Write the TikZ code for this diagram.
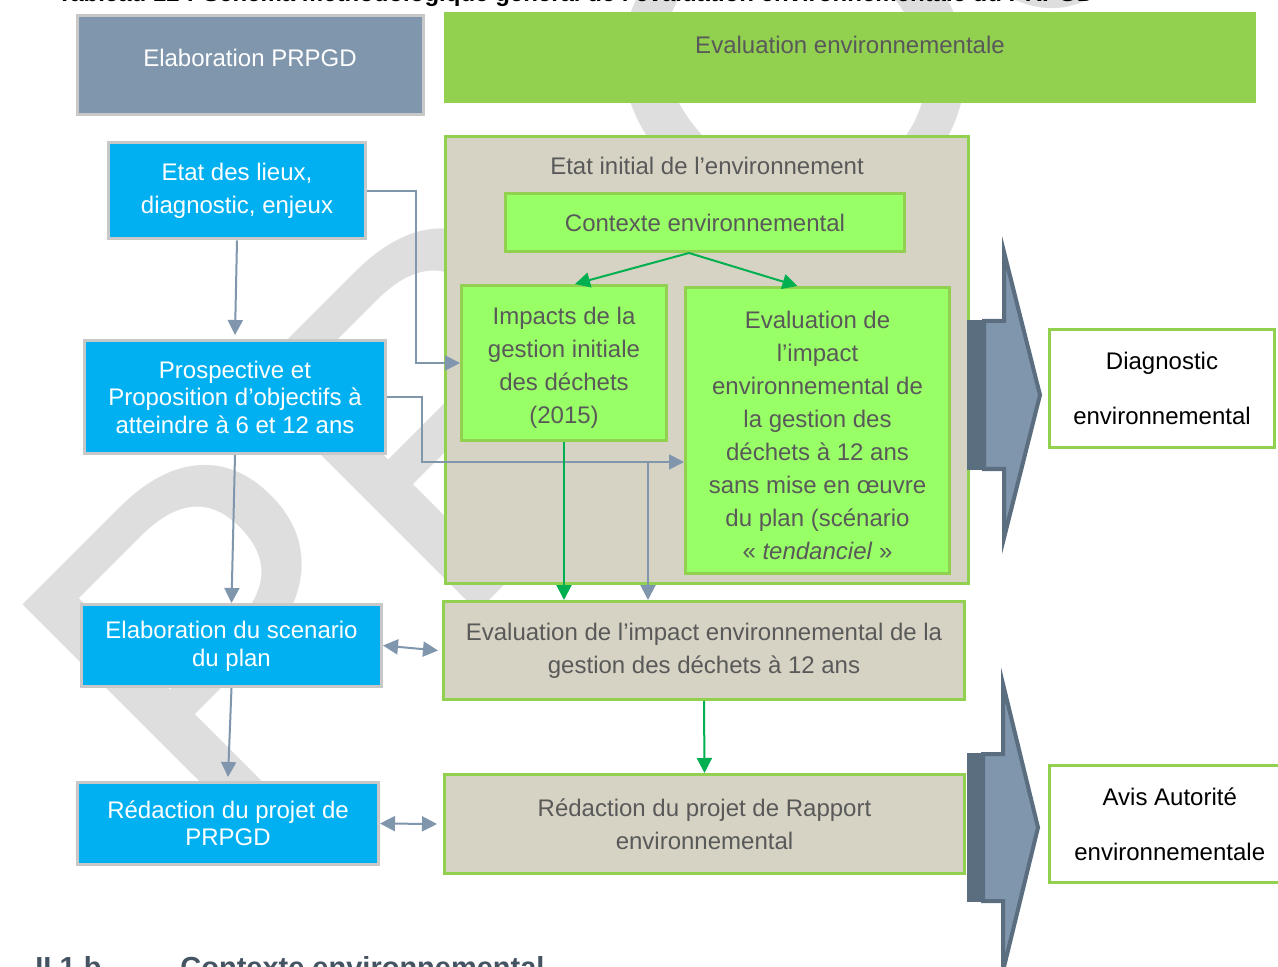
\documentclass[tikz,border=0pt]{standalone}
\usepackage{fontspec}
\setmainfont{Liberation Sans}
\usetikzlibrary{arrows.meta,calc}
\definecolor{slate}{HTML}{7F96AD}
\definecolor{slatedark}{HTML}{5B6E80}
\definecolor{blueb}{HTML}{00B0F0}
\definecolor{bgray}{HTML}{C8C8C8}
\definecolor{topgreen}{HTML}{92D050}
\definecolor{gborder}{HTML}{92D050}
\definecolor{beige}{HTML}{D6D3C4}
\definecolor{lgreen}{HTML}{99FF66}
\definecolor{garrow}{HTML}{00B050}
\definecolor{dtext}{HTML}{595959}
\definecolor{wmgray}{HTML}{DEDEDE}
\definecolor{secgray}{HTML}{455463}
\tikzset{
  base/.style={inner sep=0pt, align=center, line width=1.5pt},
  fA/.style={font=\fontsize{12pt}{16.5pt}\selectfont},
  fB/.style={font=\fontsize{12pt}{13.75pt}\selectfont},
  blubox/.style={base, fB, draw=bgray, fill=blueb, text=white},
  slbox/.style={base, draw=bgray, fill=slate, text=white},
  beigebox/.style={base, fA, draw=gborder, fill=beige, text=dtext},
  lgbox/.style={base, fA, draw=gborder, fill=lgreen, text=dtext},
  whbox/.style={base, font=\fontsize{12pt}{27.5pt}\selectfont, draw=gborder, fill=white, text=black},
  lbl/.style={inner sep=0pt, fA, align=center},
  sz/.style 2 args={minimum width=#1, minimum height=#2},
  sla/.style={draw=slate, line width=1pt, -{Triangle[length=7.5pt,width=7.5pt]}},
  slb/.style={draw=slate, line width=1pt, {Triangle[length=7.5pt,width=7.5pt]}-{Triangle[length=7.5pt,width=7.5pt]}},
  gra/.style={draw=garrow, line width=1pt, -{Triangle[length=7.5pt,width=7.5pt]}},
  bigarrow/.style={fill=slate, draw=slatedark, line width=2pt, line join=miter},
  shaftdark/.style={fill=slatedark},
}
\begin{document}
\begin{tikzpicture}[x=0.5pt,y=-0.5pt]
\useasboundingbox (0,0) rectangle (1278,967);
\clip (0,0) rectangle (1278,967);
\fill[white] (0,0) rectangle (1278,967);

% watermark
\node[anchor=base west, rotate=45, inner sep=0pt, text=wmgray,
      font=\fontsize{237.5pt}{240pt}\selectfont] (wmk) at (226,864) {PR\kern62pt OJET};

% cut-off headings
\node[anchor=base west, inner sep=0pt, font=\bfseries\fontsize{12pt}{14pt}\selectfont] (ttl) at (57,2)
  {Tableau 12 : Schéma méthodologique général de l’évaluation environnementale du PRPGD};
\node[anchor=base west, inner sep=0pt, text=secgray, font=\bfseries\fontsize{14.5pt}{16pt}\selectfont] (secn) at (35,977) {II.1.b};
\node[anchor=base west, inner sep=0pt, text=secgray, font=\bfseries\fontsize{14.5pt}{16pt}\selectfont] (sect) at (180,977) {Contexte environnemental};

% header boxes
\node[slbox, sz={173pt}{49.5pt}] (epr) at (250.5,65) {};
\node[lbl, text=white] (eprt) at (250,58) {Elaboration PRPGD};
\node[base, fill=topgreen, draw=topgreen, line width=0.5pt, sz={405.5pt}{45pt}] (eev) at (850,57.5) {};
\node[lbl, text=dtext] (eevt) at (850,45) {Evaluation environnementale};

% left column
\node[blubox, fA, sz={128.5pt}{48pt}] (eld) at (237,191) {Etat des lieux,\\diagnostic, enjeux};
\node[blubox, sz={150.5pt}{56.5pt}] (pro) at (235,397) {Prospective et\\Proposition d’objectifs à\\atteindre à 6 et 12 ans};
\node[blubox, sz={150pt}{41pt}] (esc) at (231.5,645.5) {};
\node[lbl, fB, text=white] (esct) at (231.5,646.5) {Elaboration du scenario\\du plan};
\node[blubox, sz={150.5pt}{41pt}] (red) at (228,823.5) {Rédaction du projet de\\PRPGD};

% evaluation column
\node[beigebox, sz={261.5pt}{223.5pt}] (eti) at (707,360) {};
\node[lbl, text=dtext] (etit) at (707,166) {Etat initial de l’environnement};
\node[lgbox, sz={199.5pt}{29pt}] (ctx) at (705,222.5) {Contexte environnemental};
\node[lgbox, sz={102.5pt}{77.5pt}] (imp) at (564,363) {};
\node[lbl, text=dtext] (impt) at (564,368) {Impacts de la\\gestion initiale\\des déchets\\(2015)};
\node[lgbox, sz={132pt}{143pt}] (eim) at (817.5,430.5) {};
\node[lbl, text=dtext] (eimt) at (817.5,435.5) {Evaluation de\\l’impact\\environnemental de\\la gestion des\\déchets à 12 ans\\sans mise en œuvre\\du plan (scénario\\« \textit{tendanciel} »};
\node[beigebox, sz={260.5pt}{49pt}] (e12) at (704,650.5) {Evaluation de l’impact environnemental de la\\gestion des déchets à 12 ans};
\node[beigebox, sz={260pt}{49.5pt}] (rr) at (704.5,824) {Rédaction du projet de Rapport\\environnemental};

% result boxes
\node[whbox, sz={112.5pt}{59pt}] (dia) at (1162,388.5) {Diagnostic\\environnemental};
\node[whbox, sz={120.25pt}{58.5pt}] (avis) at (1169.75,824) {Avis Autorité\\environnementale};

% slate connectors
\draw[sla] (eld.east) -- ++(49,0) |- (imp.west);
\draw[sla] (eld.south) -- ([yshift=2pt]pro.north);
\draw[sla] (pro.east) -- ++(35,0) |- ($(eim.west)+(0,31.5)$);
\coordinate (br) at (648,462);
\draw[sla] (br) -- (br |- e12.north);
\draw[sla] (pro.south) -- (esc.north);
\draw[sla] (esc.south) -- ([yshift=2pt]red.north);
\draw[slb] (esc.east) -- ([xshift=-2pt]e12.west);
\draw[slb] (red.east) -- ([xshift=-3pt]rr.west);

% green connectors
\coordinate (cs) at ($(ctx.south)+(-16,0)$);
\draw[gra] (cs) -- ($(imp.north)+(11,0)$);
\draw[gra] (cs) -- ($(eim.north)+(-20,0)$);
\draw[gra] (imp.south) -- (imp.south |- e12.north);
\draw[gra] (e12.south) -- (rr.north);

% big block arrows
\fill[shaftdark] (967,320) rectangle (990,470);
\draw[bigarrow] (984,321) -- (1004,321) -- (1004,252) -- (1040,395) -- (1004,538) -- (1004,469) -- (984,469) -- cycle;
\fill[shaftdark] (967,753) rectangle (990,902);
\draw[bigarrow] (983,754) -- (1003,754) -- (1003,684) -- (1038,827.5) -- (1003,971) -- (1003,901) -- (983,901) -- cycle;
\end{tikzpicture}
\end{document}
